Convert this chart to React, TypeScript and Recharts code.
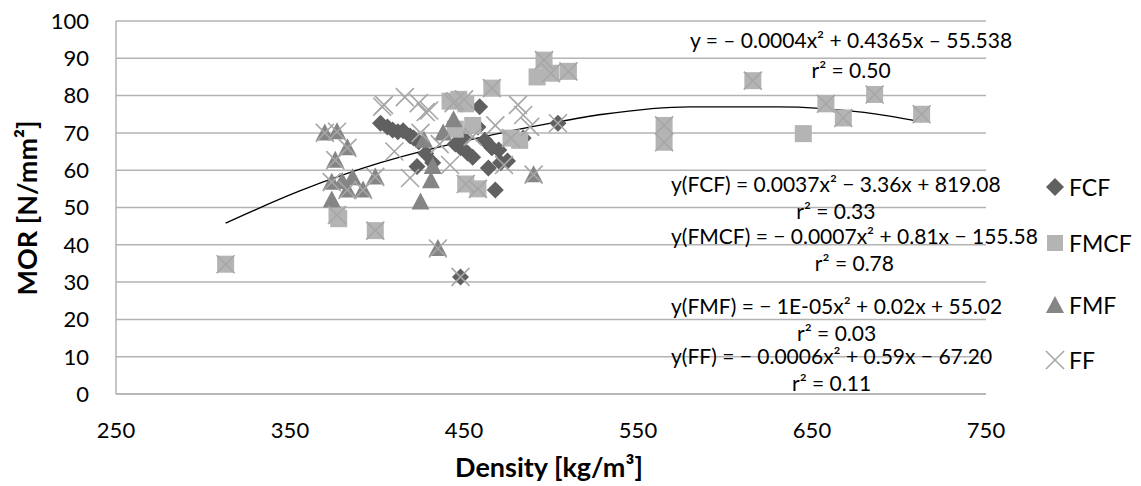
import React from "react";
import {
  ComposedChart,
  Scatter,
  Line,
  XAxis,
  YAxis,
  CartesianGrid,
} from "recharts";

type Pt = { x: number; y: number };

const xTicks = [250, 350, 450, 550, 650, 750];
const yTicks = [0, 10, 20, 30, 40, 50, 60, 70, 80, 90, 100];

// density [kg/m³], MOR [N/mm²]
const fcfData: [number, number][] = [
  [402, 72.6], [406, 71.6], [409, 70.8], [412, 70.3], [415, 70.6], [419, 69.2],
  [421, 68.6], [424, 67.6], [423, 61], [428, 64.5], [432, 62], [445, 67],
  [448, 66], [452, 64.6], [455, 63.5], [459, 77], [455, 72], [458, 71.6],
  [462, 68], [464, 60.6], [470, 65.4], [471, 62], [475, 62.5], [468, 54.7],
  [504, 72.6], [484, 68.6], [448, 31.4], [450, 68.5], [466, 66],
];

const fmcfData: [number, number][] = [
  [313, 34.8], [377, 48], [378, 47], [399, 43.8], [442, 78.5], [447, 79],
  [451, 77.8], [466, 82], [492, 85], [496, 89.5], [500, 86], [510, 86.5],
  [451, 56.3], [458, 55], [477, 68.6], [482, 68], [565, 72], [565, 67.5],
  [616, 84], [645, 69.8], [658, 77.8], [668, 74], [686, 80.3], [713, 75],
  [445, 71], [455, 72],
];

const fmfData: [number, number][] = [
  [370, 70], [377, 70.3], [383, 66], [376, 62.7], [374, 56.8], [374, 52],
  [383, 54.7], [386, 58], [392, 54.7], [399, 58.2], [425, 51.5], [431, 57.2],
  [432, 61], [435, 39], [438, 70], [444, 73.5], [490, 58.8], [380, 57], [427, 68],
];

const ffData: [number, number][] = [
  [404, 77.5], [416, 79.6], [424, 78], [428, 75.6], [419, 57.9], [403, 77],
  [442, 61.4], [450, 79], [481, 77.5], [484, 74.8], [488, 71.6], [473, 61.4],
  [430, 76], [444, 78], [455, 69], [468, 72], [425, 70], [410, 65], [436, 67],
  [313, 34.8], [377, 48], [399, 43.8], [445, 78.5], [466, 82], [496, 89.5],
  [500, 86], [510, 86.5], [451, 56.3], [458, 55], [477, 68.6], [565, 72],
  [565, 67.5], [616, 84], [658, 77.8], [668, 74], [686, 80.3], [713, 75],
  [448, 31.4], [504, 72.6], [376, 62.7], [374, 56.8], [383, 54.7], [370, 70],
  [377, 70.3], [383, 66], [399, 58.2], [435, 39], [490, 58.8], [392, 54.7],
];

// polynomial trendline, points
const trendData: [number, number][] = [
  [313, 45.8], [356, 54.5], [402, 62], [450, 67.8], [500, 72.6], [530, 75],
  [580, 77], [630, 77], [680, 75.5], [713, 73],
];

const seriesNames = ["FCF", "FMCF", "FMF", "FF"];

const equations = [
  { eq: "y(FCF) = 0.0037x² − 3.36x + 819.08", r2: "r² = 0.33", cy: 183 },
  { eq: "y(FMCF) = − 0.0007x² + 0.81x − 155.58", r2: "r² = 0.78", cy: 235 },
  { eq: "y(FMF) = − 1E-05x² + 0.02x + 55.02", r2: "r² = 0.03", cy: 305 },
  { eq: "y(FF) = − 0.0006x² + 0.59x − 67.20", r2: "r² = 0.11", cy: 355 },
];

const toPts = (d: [number, number][]): Pt[] => d.map(([x, y]) => ({ x, y }));

const GRID = "#b3b3b3";
const C_FCF = "#606060";
const C_FMCF = "#b4b4b4";
const C_FMF = "#858585";
const C_FF = "#a6a6a6";

const Diamond = (p: any) => {
  const { cx, cy } = p;
  const r = 8.5;
  return (
    <path
      d={`M${cx},${cy - r}L${cx + r},${cy}L${cx},${cy + r}L${cx - r},${cy}Z`}
      fill={C_FCF}
    />
  );
};

const Square = (p: any) => {
  const { cx, cy } = p;
  const s = 17;
  return <rect x={cx - s / 2} y={cy - s / 2} width={s} height={s} fill={C_FMCF} />;
};

const Tri = (p: any) => {
  const { cx, cy } = p;
  const w = 9;
  return (
    <path
      d={`M${cx},${cy - 9.5}L${cx + w},${cy + 7.5}L${cx - w},${cy + 7.5}Z`}
      fill={C_FMF}
    />
  );
};

const Ex = (p: any) => {
  const { cx, cy } = p;
  const r = 9;
  return (
    <g stroke={C_FF} strokeWidth={1.6}>
      <line x1={cx - r} y1={cy - r} x2={cx + r} y2={cy + r} />
      <line x1={cx - r} y1={cy + r} x2={cx + r} y2={cy - r} />
    </g>
  );
};

const legendMarks = [
  <path d="M9,0L18,9L9,18L0,9Z" fill={C_FCF} />,
  <rect x={1} y={1} width={16} height={16} fill={C_FMCF} />,
  <path d="M9,0L18,17L0,17Z" fill={C_FMF} />,
  <g stroke={C_FF} strokeWidth={1.6}>
    <line x1={0} y1={0} x2={18} y2={18} />
    <line x1={0} y1={18} x2={18} y2={0} />
  </g>,
];
const legendY = [187, 243, 305, 360];

const abs = (style: React.CSSProperties): React.CSSProperties => ({
  position: "absolute",
  whiteSpace: "pre",
  ...style,
});

export default function App() {
  return (
    <div
      style={{
        position: "absolute",
        left: 0,
        top: 0,
        width: 1141,
        height: 486,
        background: "#fff",
        fontFamily: "Lato, 'Open Sans', sans-serif",
        overflow: "hidden",
      }}
    >
      <ComposedChart
        width={1141}
        height={486}
        margin={{ top: 21, right: 155, bottom: 0, left: 0 }}
      >
        <CartesianGrid vertical={false} stroke={GRID} strokeWidth={1.5} />
        <XAxis
          dataKey="x"
          type="number"
          domain={[250, 750]}
          ticks={xTicks}
          height={92}
          axisLine={{ stroke: GRID, strokeWidth: 1.5 }}
          tickLine={false}
          tickSize={0}
          tickMargin={28}
          tick={{ fill: "#000", fontSize: 22 }}
        />
        <YAxis
          type="number"
          domain={[0, 100]}
          ticks={yTicks}
          width={116}
          axisLine={{ stroke: GRID, strokeWidth: 1.5 }}
          tickLine={false}
          tickSize={0}
          tickMargin={27}
          tick={{ fill: "#000", fontSize: 22 }}
        />
        <Scatter name="FCF" data={toPts(fcfData)} dataKey="y" shape={Diamond} isAnimationActive={false} />
        <Scatter name="FMCF" data={toPts(fmcfData)} dataKey="y" shape={Square} isAnimationActive={false} />
        <Scatter name="FMF" data={toPts(fmfData)} dataKey="y" shape={Tri} isAnimationActive={false} />
        <Scatter name="FF" data={toPts(ffData)} dataKey="y" shape={Ex} isAnimationActive={false} />
        <Line
          data={toPts(trendData)}
          dataKey="y"
          type="monotone"
          stroke="#000"
          strokeWidth={1.3}
          dot={false}
          isAnimationActive={false}
        />
      </ComposedChart>

      {/* axis titles */}
      <div
        style={abs({
          left: 26,
          top: 208,
          fontSize: 27,
          fontWeight: 700,
          lineHeight: 1,
          transform: "translate(-50%, -50%) rotate(-90deg)",
        })}
      >
        MOR [N/mm²]
      </div>
      <div
        style={abs({
          left: 549,
          top: 466,
          fontSize: 27,
          fontWeight: 700,
          lineHeight: 1,
          transform: "translate(-50%, -50%)",
        })}
      >
        Density [kg/m³]
      </div>

      {/* overall trendline */}
      <div style={abs({ left: 690, top: 25, fontSize: 21, lineHeight: "30px", textAlign: "center" })}>
        {"y = – 0.0004x² + 0.4365x – 55.538\nr² = 0.50"}
      </div>

      {/* per-series trendlines */}
      {equations.map((e) => (
        <div
          key={e.eq}
          style={abs({
            left: 671,
            top: e.cy - 13.5,
            fontSize: 21,
            lineHeight: "27px",
            textAlign: "center",
          })}
        >
          {e.eq + "\n" + e.r2}
        </div>
      ))}

      {/* legend */}
      {seriesNames.map((name, i) => (
        <div
          key={name}
          style={abs({
            left: 1045,
            top: legendY[i] - 16,
            height: 32,
            display: "flex",
            alignItems: "center",
          })}
        >
          <svg width={20} height={20} viewBox="-1 -1 20 20" style={{ marginRight: 4 }}>
            {legendMarks[i]}
          </svg>
          <span style={{ fontSize: 23, lineHeight: 1 }}>{name}</span>
        </div>
      ))}
    </div>
  );
}
